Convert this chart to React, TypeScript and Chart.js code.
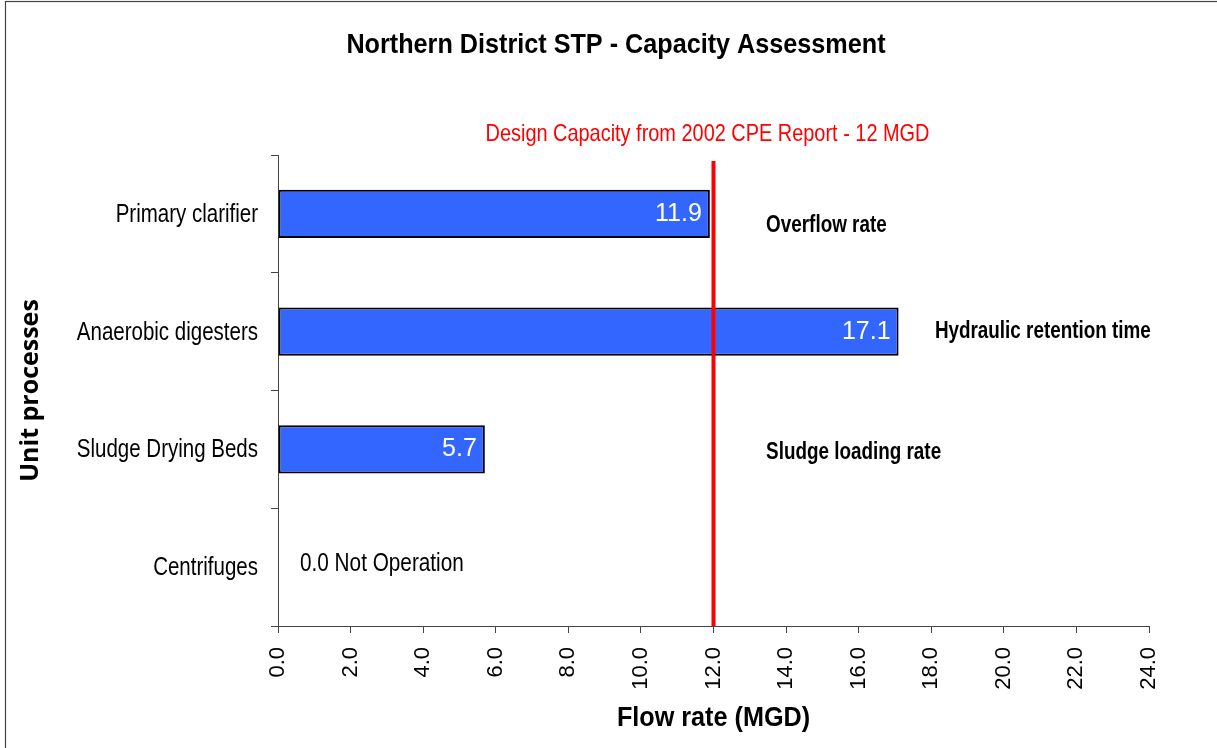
import React, { useEffect, useRef } from "react";
import { Chart, registerables } from "chart.js";

Chart.register(...registerables);

// ---------- data ----------
const chartTitle = "Northern District STP - Capacity Assessment";
const categories = ["Primary clarifier", "Anaerobic digesters", "Sludge Drying Beds", "Centrifuges"];
const flowRates = [11.9, 17.1, 5.7, 0.0];
const basisNotes = ["Overflow rate", "Hydraulic retention time", "Sludge loading rate", ""];
const zeroNote = "Not Operation";
const xTickValues = [0, 2, 4, 6, 8, 10, 12, 14, 16, 18, 20, 22, 24];
const designCapacity = 12;
const designLabel = "Design Capacity from 2002 CPE Report - 12 MGD";
const xAxisTitle = "Flow rate (MGD)";
const yAxisTitle = "Unit processes";

// ---------- style / layout ----------
const ARIAL = "'Liberation Sans', Arial, sans-serif";
const AXIS_COLOR = "#444444";
const BAR_COLOR = "#3366FF";
const LINE_RED = "#FF0000";
const NARROW_SCALE = 0.82; // emulates Arial Narrow
// note anchor positions (in MGD units along x) and vertical nudges (px)
const noteXPos = [13.45, 18.1, 13.45, 0];
const noteYNudge = [12, 0, 3, 0];

function drawText(
  ctx: CanvasRenderingContext2D,
  text: string,
  x: number,
  y: number,
  font: string,
  color: string,
  align: CanvasTextAlign,
  sx: number
) {
  ctx.save();
  ctx.font = font;
  ctx.fillStyle = color;
  ctx.textAlign = align;
  ctx.textBaseline = "middle";
  ctx.translate(x, y);
  ctx.scale(sx, 1);
  ctx.fillText(text, 0, 0);
  ctx.restore();
}

const overlayPlugin = {
  id: "overlay",
  beforeDraw(chart: any) {
    const ctx = chart.ctx;
    ctx.save();
    ctx.fillStyle = "#ffffff";
    ctx.fillRect(0, 0, chart.width, chart.height);
    ctx.strokeStyle = "#444444";
    ctx.lineWidth = 1.2;
    ctx.strokeRect(5.5, 1.5, chart.width + 50, chart.height + 50);
    ctx.restore();
  },
  afterDatasetsDraw(chart: any) {
    const ctx = chart.ctx;
    const xs = chart.scales.x;
    const ys = chart.scales.y;
    const area = chart.chartArea;
    ctx.save();

    // design capacity line
    const lx = xs.getPixelForValue(designCapacity);
    ctx.strokeStyle = LINE_RED;
    ctx.lineWidth = 4;
    ctx.beginPath();
    ctx.moveTo(lx, area.top + 6);
    ctx.lineTo(lx, area.bottom);
    ctx.stroke();
    ctx.restore();

    // title
    drawText(ctx, chartTitle, 616, 45, `bold 28px ${ARIAL}`, "#000", "center", 0.9);
    // design label
    drawText(ctx, designLabel, lx - 6, 134, `24px ${ARIAL}`, LINE_RED, "center", 0.83);
    // x axis title
    drawText(ctx, xAxisTitle, (area.left + area.right) / 2, 718, `bold 28px ${ARIAL}`, "#000", "center", 0.9);

    // category labels
    categories.forEach((c, i) => {
      drawText(ctx, c, area.left - 20, ys.getPixelForValue(i) + 1, `25px ${ARIAL}`, "#000", "right", NARROW_SCALE);
    });

    // value labels + notes
    const meta = chart.getDatasetMeta(0);
    meta.data.forEach((bar: any, i: number) => {
      const v = flowRates[i];
      const cy = ys.getPixelForValue(i);
      if (v > 0) {
        drawText(ctx, v.toFixed(1), bar.x - 8, bar.y, `25px ${ARIAL}`, "#fff", "right", 1);
      } else {
        drawText(ctx, `${v.toFixed(1)} ${zeroNote}`, bar.x + 22, cy - 3, `25px ${ARIAL}`, "#000", "left", 0.83);
      }
      if (basisNotes[i]) {
        drawText(
          ctx,
          basisNotes[i],
          xs.getPixelForValue(noteXPos[i]),
          cy + noteYNudge[i],
          `bold 23px ${ARIAL}`,
          "#000",
          "left",
          NARROW_SCALE
        );
      }
    });
  },
};

export default function App() {
  const ref = useRef<HTMLCanvasElement | null>(null);
  useEffect(() => {
    if (!ref.current) return;
    const chart = new Chart(ref.current, {
      type: "bar",
      data: {
        labels: categories,
        datasets: [
          {
            data: flowRates,
            backgroundColor: BAR_COLOR,
            borderColor: "#000000",
            borderWidth: 2,
            borderSkipped: false,
            barPercentage: 0.41,
            categoryPercentage: 1,
          },
        ],
      },
      options: {
        indexAxis: "y",
        responsive: false,
        animation: false,
        layout: { padding: { top: 155, right: 68, left: 0, bottom: 0 } },
        plugins: {
          legend: { display: false },
          tooltip: { enabled: false },
          title: { display: false },
        },
        scales: {
          x: {
            type: "linear",
            min: 0,
            max: 24,
            afterBuildTicks: (scale: any) => {
              scale.ticks = xTickValues.map((v) => ({ value: v }));
            },
            afterFit: (scale: any) => {
              scale.height = 122;
            },
            grid: {
              display: true,
              drawOnChartArea: false,
              drawTicks: true,
              tickLength: 7,
              color: AXIS_COLOR,
            },
            border: { display: true, color: AXIS_COLOR, width: 1 },
            ticks: {
              autoSkip: false,
              minRotation: 90,
              maxRotation: 90,
              padding: 14,
              color: "#000000",
              font: { family: ARIAL, size: 22 },
              callback: (v: any) => Number(v).toFixed(1),
            },
            title: { display: false, text: xAxisTitle },
          },
          y: {
            type: "category",
            afterFit: (scale: any) => {
              scale.width = 278;
            },
            grid: {
              display: true,
              offset: true,
              drawOnChartArea: false,
              drawTicks: true,
              tickLength: 7,
              color: AXIS_COLOR,
            },
            border: { display: true, color: AXIS_COLOR, width: 1 },
            ticks: { display: false },
            title: {
              display: true,
              text: yAxisTitle,
              color: "#000000",
              font: { family: "'Open Sans', sans-serif", size: 25, weight: "bold" },
              padding: { top: 16, bottom: 0 },
            },
          },
        },
      },
      plugins: [overlayPlugin],
    } as any);
    return () => chart.destroy();
  }, []);
  return (
    <div style={{ position: "absolute", left: 0, top: 0, width: 1217, height: 748 }}>
      <canvas ref={ref} width={1217} height={748} style={{ display: "block" }} />
    </div>
  );
}
